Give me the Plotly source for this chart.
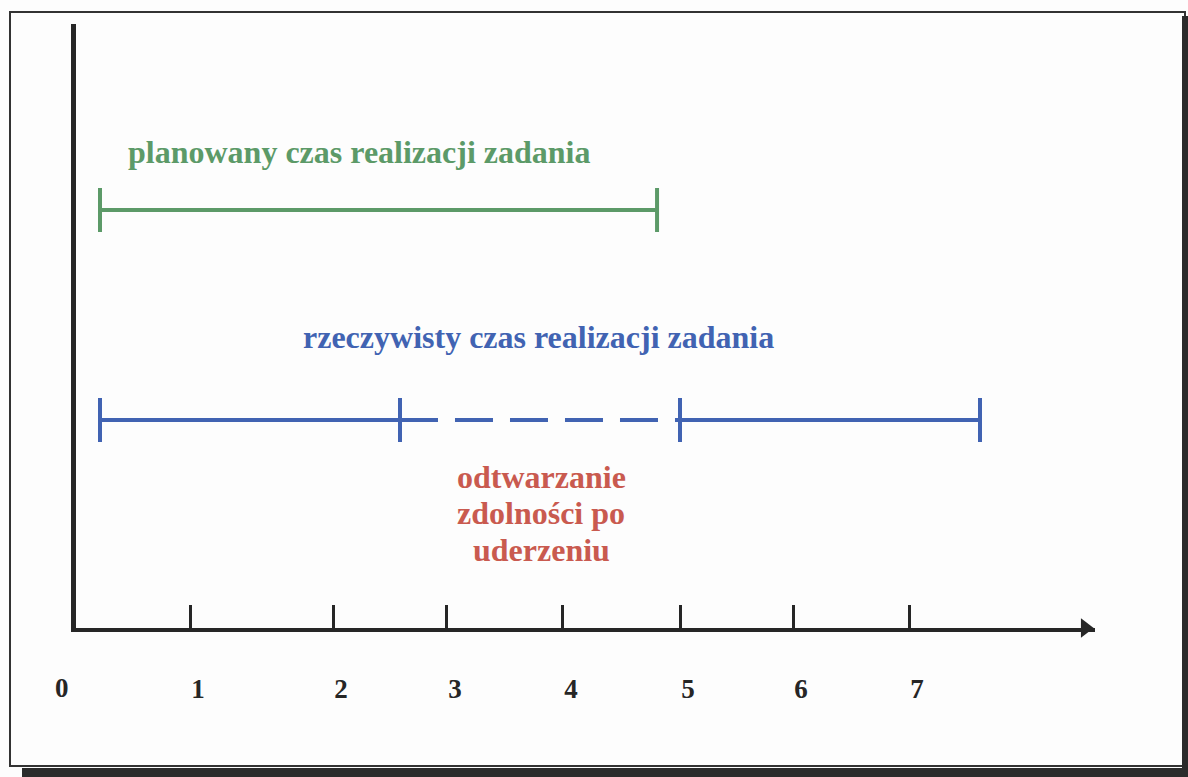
import plotly.graph_objects as go

# ---- data (time units along the axis, row levels) ----
tick_pos = [0.983, 2.216, 3.198, 4.198, 5.207, 6.181, 7.181]
tick_text = ["1", "2", "3", "4", "5", "6", "7"]
origin_label = "0"

planned_start, planned_end = 0.207, 5.009
planned_row = 4.18

actual_start, break_start, break_end, actual_end = 0.207, 2.793, 5.207, 7.793
actual_row = 2.08

cap_half = 0.22

red_lines = ["odtwarzanie", "zdolności po", "uderzeniu"]
red_rows = [1.51, 1.15, 0.78]

green = "#5c9a68"
blue = "#4163b2"
red = "#c95a4f"
dark = "#262626"
font_family = "Liberation Serif, Times New Roman, serif"

fig = go.Figure()

# planned line
fig.add_trace(go.Scatter(x=[planned_start, planned_end], y=[planned_row, planned_row],
                         mode="lines", line=dict(color=green, width=4), hoverinfo="skip"))
caps_x, caps_y = [], []
for xv in [planned_start, planned_end]:
    caps_x += [xv, xv, None]
    caps_y += [planned_row - cap_half, planned_row + cap_half, None]
fig.add_trace(go.Scatter(x=caps_x, y=caps_y, mode="lines",
                         line=dict(color=green, width=4), hoverinfo="skip"))

# actual line: solid, dashed, solid
fig.add_trace(go.Scatter(x=[actual_start, break_start], y=[actual_row, actual_row],
                         mode="lines", line=dict(color=blue, width=4), hoverinfo="skip"))
fig.add_trace(go.Scatter(x=[break_start, break_end], y=[actual_row, actual_row],
                         mode="lines", line=dict(color=blue, width=4, dash="38px,17px"),
                         hoverinfo="skip"))
fig.add_trace(go.Scatter(x=[break_end, actual_end], y=[actual_row, actual_row],
                         mode="lines", line=dict(color=blue, width=4), hoverinfo="skip"))
caps_x, caps_y = [], []
for xv in [actual_start, break_start, break_end, actual_end]:
    caps_x += [xv, xv, None]
    caps_y += [actual_row - cap_half, actual_row + cap_half, None]
fig.add_trace(go.Scatter(x=caps_x, y=caps_y, mode="lines",
                         line=dict(color=blue, width=4), hoverinfo="skip"))

# axis arrow head
fig.add_trace(go.Scatter(x=[8.70], y=[0], mode="markers", cliponaxis=False,
                         marker=dict(symbol="triangle-right", size=17, color=dark),
                         hoverinfo="skip"))

# origin label "0" (sits left of the axis origin, on the tick-label row)
fig.add_annotation(x=-0.0137, y=-0.0993, xref="x domain", yref="y domain",
                   xanchor="center", yanchor="middle",
                   showarrow=False, text="<b>" + origin_label + "</b>",
                   font=dict(family=font_family, size=27, color=dark))

# texts
fig.add_annotation(x=2.444, y=4.76, xref="x", yref="y", showarrow=False,
                   text="<b>planowany czas realizacji zadania</b>",
                   font=dict(family=font_family, size=32, color=green))
fig.add_annotation(x=3.991, y=2.91, xref="x", yref="y", showarrow=False,
                   text="<b>rzeczywisty czas realizacji zadania</b>",
                   font=dict(family=font_family, size=32, color=blue))
for line_text, row in zip(red_lines, red_rows):
    fig.add_annotation(x=4.009, y=row, xref="x", yref="y", showarrow=False,
                       text="<b>" + line_text + "</b>",
                       font=dict(family=font_family, size=32, color=red))

# frame (scanned page border)
W, H = 1188, 777
fig.add_shape(type="rect", xref="paper", yref="paper",
              x0=10 / W, x1=1185 / W, y0=1 - 766 / H, y1=1 - 12 / H,
              line=dict(color="#333333", width=2), layer="below")
fig.add_shape(type="rect", xref="paper", yref="paper",
              x0=22 / W, x1=1.0, y0=0.0, y1=1 - 768 / H,
              line=dict(width=0), fillcolor="#2b2b2b")
fig.add_shape(type="rect", xref="paper", yref="paper",
              x0=1182 / W, x1=1.0, y0=0.0, y1=1 - 16 / H,
              line=dict(width=0), fillcolor="#2b2b2b")

fig.update_layout(
    width=W, height=H,
    margin=dict(l=0, r=0, t=0, b=0),
    paper_bgcolor="#fdfdfd", plot_bgcolor="rgba(0,0,0,0)",
    showlegend=False,
    xaxis=dict(domain=[76 / W, 1095 / W], range=[0, 1019 / 116],
               showgrid=False, zeroline=False, showline=True, linewidth=4,
               linecolor=dark, ticks="inside", ticklen=23, tickwidth=3,
               tickcolor=dark, tickvals=tick_pos, ticktext=tick_text,
               ticklabelstandoff=34, ticklabelshift=8,
               tickfont=dict(family=font_family, size=27, color=dark, weight="bold")),
    yaxis=dict(domain=[149 / H, 753 / H], range=[0, 6.04],
               showgrid=False, zeroline=False, showline=True, linewidth=5,
               linecolor=dark, ticks="", showticklabels=False),
)

fig.write_html("out.html", config={"displayModeBar": False},
               post_script="document.body.style.margin='0';")
